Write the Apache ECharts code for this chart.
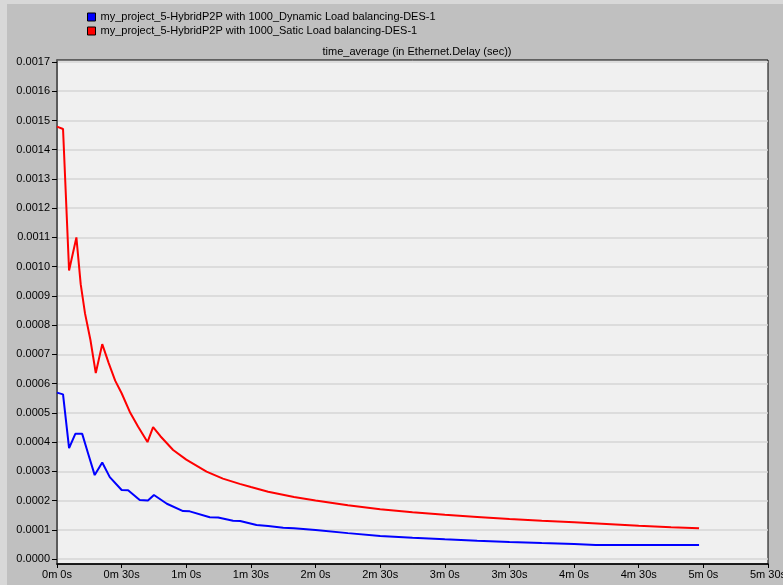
<!DOCTYPE html>
<html>
<head>
<meta charset="utf-8">
<script src="https://cdn.jsdelivr.net/npm/echarts@6/dist/echarts.min.js"></script>
<style>
html,body{margin:0;padding:0;background:#c0c0c0;}
#chart{width:783px;height:585px;}
</style>
</head>
<body>
<div id="chart"></div>
<script>
// Series names
const seriesNames = [
  'my_project_5-HybridP2P with 1000_Dynamic Load balancing-DES-1',
  'my_project_5-HybridP2P with 1000_Satic Load balancing-DES-1'
];
const chartTitle = 'time_average (in Ethernet.Delay (sec))';

// Dynamic (blue): time in seconds, values in seconds
const blueTimes  = [0, 2.8, 5.6, 8.5, 11.7, 14.4, 17.5, 21, 24.5, 30, 33, 38.4, 42.2, 45, 51, 58.5, 61.6, 70.9, 74.8, 81.7, 85, 92.6, 98, 105, 110, 120, 135, 150, 165, 180, 195, 210, 225, 240, 250, 270, 298];
const blueValues = [0.000569, 0.000563, 0.000379, 0.000428, 0.000428, 0.000362, 0.000287, 0.000330, 0.000280, 0.000236, 0.000235, 0.000202, 0.000200, 0.000219, 0.000189, 0.000164, 0.000163, 0.000143, 0.000142, 0.000131, 0.000130, 0.000116, 0.000113, 0.000107, 0.000105, 0.0000992, 0.0000885, 0.0000787, 0.0000725, 0.0000674, 0.0000625, 0.0000582, 0.0000545, 0.0000513, 0.0000482, 0.0000480, 0.0000480];

// Static (red)
const redTimes  = [0, 2.8, 5.6, 9, 11, 13, 15.5, 18, 21, 24, 27, 30, 34, 37.6, 42, 44.6, 48, 53.9, 60, 69.4, 77, 84.8, 90, 98, 110, 120, 135, 150, 165, 180, 195, 210, 225, 240, 255, 270, 285, 298];
const redValues = [0.001479, 0.001471, 0.000987, 0.001100, 0.000940, 0.000840, 0.000750, 0.000636, 0.000735, 0.000670, 0.000610, 0.000567, 0.000500, 0.000453, 0.000400, 0.000451, 0.000420, 0.000373, 0.000340, 0.000299, 0.000275, 0.000257, 0.000246, 0.000230, 0.000212, 0.000200, 0.000184, 0.000170, 0.000160, 0.000151, 0.000144, 0.000137, 0.000131, 0.000126, 0.000120, 0.000114, 0.000109, 0.000105];

// Axis settings
const xMin = 0, xMax = 330, xStep = 30;
const yMin = 0, yMax = 0.0017, yStep = 0.0001;

const pair = (ts, vs) => ts.map((t, i) => [t, vs[i]]);
const fmtTime = v => Math.floor(v / 60) + 'm ' + Math.round(v % 60) + 's';
const FONT = 'Liberation Sans';

const chart = echarts.init(document.getElementById('chart'), null, {renderer: 'canvas'});
chart.setOption({
  animation: false,
  backgroundColor: '#c0c0c0',
  textStyle: {fontFamily: FONT},
  graphic: [
    {type: 'rect', shape: {x: 0, y: 0, width: 783, height: 4}, style: {fill: '#d8d8d8'}, z: -10},
    {type: 'rect', shape: {x: 0, y: 0, width: 7, height: 585}, style: {fill: '#d8d8d8'}, z: -10}
  ],
  title: {
    text: chartTitle,
    left: 412, top: 41, textAlign: 'center',
    textStyle: {fontFamily: FONT, fontSize: 11, fontWeight: 'normal', color: '#000'}
  },
  legend: {
    orient: 'vertical', left: 82, top: 6,
    itemWidth: 8, itemHeight: 8, itemGap: 2,
    icon: 'rect',
    itemStyle: {borderColor: '#000', borderWidth: 1},
    textStyle: {fontFamily: FONT, fontSize: 11, color: '#000', lineHeight: 12},
    data: seriesNames
  },
  grid: [
    {left: 57, right: 15, top: 60, bottom: 21, outerBoundsMode: 'none', containLabel: false, show: true, backgroundColor: '#f0f0f0', borderColor: '#000', borderWidth: 1},
    {left: 57, right: 15, top: 62, bottom: 26, outerBoundsMode: 'none', containLabel: false}
  ],
  xAxis: [
    {
      gridIndex: 0, type: 'value', min: xMin, max: xMax, interval: xStep,
      axisLine: {show: true, lineStyle: {color: '#000', width: 1.5}},
      axisTick: {show: true, length: 4, lineStyle: {color: '#000'}},
      axisLabel: {formatter: fmtTime, fontSize: 11, color: '#000', margin: 5, showMaxLabel: true, showMinLabel: true, hideOverlap: false},
      splitLine: {show: false}
    },
    {
      gridIndex: 1, type: 'value', min: xMin, max: xMax, show: false
    }
  ],
  yAxis: [
    {
      gridIndex: 0, type: 'value', min: 0, max: 1,
      axisLine: {show: true, lineStyle: {color: '#5a5a5a', width: 2}},
      axisTick: {show: false}, axisLabel: {show: false}, splitLine: {show: false}
    },
    {
      gridIndex: 1, type: 'value', min: yMin, max: yMax, interval: yStep,
      axisLine: {show: false},
      axisTick: {show: true, length: 5, lineStyle: {color: '#000'}},
      axisLabel: {formatter: v => v.toFixed(4), fontSize: 11, color: '#000', margin: 7},
      splitLine: {show: true, lineStyle: {color: '#d6d6d6', width: 1.5}}
    }
  ],
  series: [
    {
      name: seriesNames[0], type: 'line', xAxisIndex: 1, yAxisIndex: 1,
      data: pair(blueTimes, blueValues), showSymbol: false, symbol: 'none',
      itemStyle: {color: '#0000ff'}, lineStyle: {color: '#0000ff', width: 2}, z: 3
    },
    {
      name: seriesNames[1], type: 'line', xAxisIndex: 1, yAxisIndex: 1,
      data: pair(redTimes, redValues), showSymbol: false, symbol: 'none',
      itemStyle: {color: '#ff0000'}, lineStyle: {color: '#ff0000', width: 2}, z: 3
    }
  ]
});
</script>
</body>
</html>
